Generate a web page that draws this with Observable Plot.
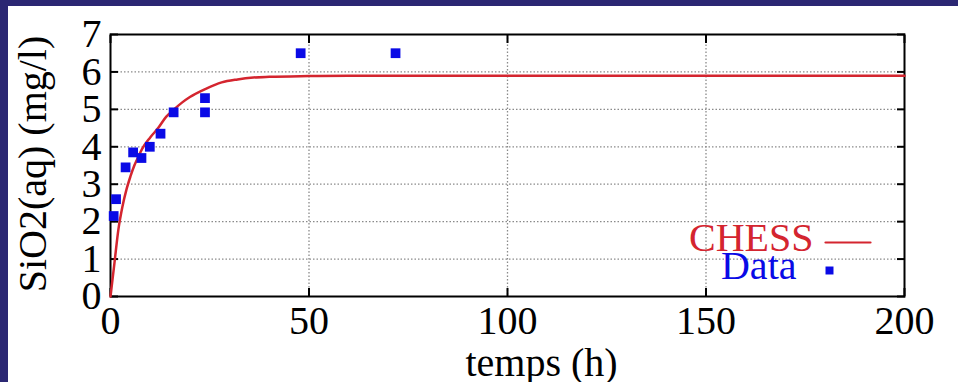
<!DOCTYPE html>
<html>
<head>
<meta charset="utf-8">
<script src="https://cdn.jsdelivr.net/npm/d3@7"></script>
<script src="https://cdn.jsdelivr.net/npm/@observablehq/plot@0.6"></script>
<style>
  html, body { margin: 0; padding: 0; background: #2b2773; overflow: hidden; width: 958px; height: 382px; }
  #chart { position: absolute; left: 8px; top: 6px; width: 950px; height: 376px; background: #fff; }
  #chart svg { display: block; }
</style>
</head>
<body>
<div id="chart"></div>
<script>
// Model curve (CHESS)
const curveT = [0, 1, 2, 3, 4, 5, 6, 7, 8, 10, 12, 14, 16, 18, 20, 24, 28, 32, 36, 40, 50, 60, 80, 100, 150, 200];
const curveV = [0, 0.9, 1.8, 2.4, 2.85, 3.2, 3.5, 3.73, 3.95, 4.25, 4.5, 4.8, 5.0, 5.18, 5.33, 5.55, 5.72, 5.8, 5.85, 5.87, 5.89, 5.9, 5.9, 5.9, 5.9, 5.9];
// Measured data
const dataT = [0.8, 1.4, 3.8, 5.7, 7.8, 9.9, 12.6, 15.9, 23.8, 23.8, 47.9, 71.8];
const dataV = [2.15, 2.6, 3.45, 3.85, 3.7, 4.0, 4.35, 4.92, 5.3, 4.92, 6.5, 6.5];
// Ticks and labels
const xTicks = [0, 50, 100, 150, 200];
const yTicks = [0, 1, 2, 3, 4, 5, 6, 7];
const xGrid = [50, 100, 150];
const yGrid = [1, 2, 3, 4, 5, 6];
const xLabel = "temps (h)";
const yLabel = "SiO2(aq) (mg/l)";
const legendLine = "CHESS";
const legendData = "Data";

const RED = "#d4252f";
const BLUE = "#0a0ae6";

const curve = curveT.map((t, i) => ({t, v: curveV[i]}));
const data = dataT.map((t, i) => ({t, v: dataV[i]}));

const chart = Plot.plot({
  width: 950,
  height: 376,
  marginLeft: 102,
  marginRight: 54,
  marginTop: 28,
  marginBottom: 86,
  style: {fontFamily: "'Liberation Serif', 'DejaVu Serif', serif", fontSize: "40px", color: "black", background: "white"},
  x: {domain: [0, 200]},
  y: {domain: [0, 7]},
  marks: [
    Plot.gridX(xGrid, {stroke: "#8a8a8a", strokeOpacity: 1, strokeWidth: 1.3, strokeDasharray: "1.5,2"}),
    Plot.gridY(yGrid, {stroke: "#8a8a8a", strokeOpacity: 1, strokeWidth: 1.3, strokeDasharray: "1.5,2"}),
    Plot.axisX(xTicks, {anchor: "bottom", tickSize: -8, strokeWidth: 2, label: null, tickFormat: d => String(d)}),
    Plot.axisX(xTicks, {anchor: "top", tickSize: -8, strokeWidth: 2, label: null, tickFormat: () => ""}),
    Plot.axisY(yTicks, {anchor: "left", tickSize: -8, strokeWidth: 2, label: null, tickFormat: d => String(d)}),
    Plot.axisY(yTicks, {anchor: "right", tickSize: -8, strokeWidth: 2, label: null, tickFormat: () => ""}),
    Plot.frame({stroke: "black", strokeWidth: 2}),
    Plot.line(curve, {x: "t", y: "v", curve: "monotone-x", stroke: RED, strokeWidth: 2.5}),
    Plot.dot(data, {x: "t", y: "v", symbol: "square", r: 5.5, fill: BLUE, stroke: "none"}),
    Plot.text([xLabel], {frameAnchor: "bottom", dx: 34, dy: 67, textAnchor: "middle", lineAnchor: "middle", text: d => d, fill: "black"}),
    Plot.text([yLabel], {frameAnchor: "left", dx: -77, dy: -1.5, rotate: -90, textAnchor: "middle", lineAnchor: "middle", text: d => d, fill: "black"}),
    Plot.text([legendLine], {frameAnchor: "bottom-right", dx: -91, dy: -58, textAnchor: "end", lineAnchor: "middle", text: d => d, fill: RED}),
    Plot.vector([legendLine], {frameAnchor: "bottom-right", dx: -79, dy: -54, length: 45, rotate: 90, anchor: "start",
      shape: {draw(ctx, l) { ctx.moveTo(0, 0); ctx.lineTo(0, -l); }}, stroke: RED, strokeWidth: 2.2}),
    Plot.text([legendData], {frameAnchor: "bottom-right", dx: -108, dy: -30, textAnchor: "end", lineAnchor: "middle", text: d => d, fill: BLUE}),
    Plot.dot([legendData], {frameAnchor: "bottom-right", dx: -75, dy: -26, symbol: "square", r: 4.5, fill: BLUE, stroke: "none"})
  ]
});
document.getElementById("chart").appendChild(chart);
</script>
</body>
</html>
